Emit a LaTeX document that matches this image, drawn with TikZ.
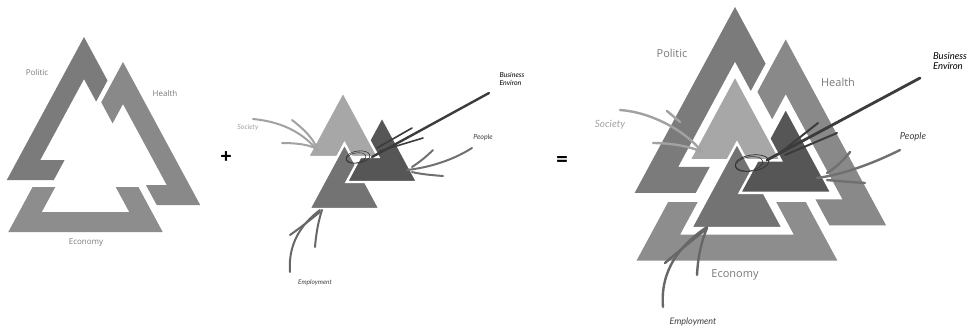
\documentclass[tikz,border=0pt]{standalone}
\usepackage{fontspec}
\usetikzlibrary{calc}
\setmainfont{Open Sans}
\newfontfamily\handfont{Lato}
\definecolor{cP}{HTML}{7B7B7B}
\definecolor{cH}{HTML}{898989}
\definecolor{cE}{HTML}{8D8D8D}
\definecolor{cL}{HTML}{A7A7A7}
\definecolor{cM}{HTML}{737373}
\definecolor{cD}{HTML}{565656}
\definecolor{labgray}{HTML}{7A7A7A}
\definecolor{socgray}{HTML}{A2A2A2}
\definecolor{peoplegray}{HTML}{707070}
\definecolor{empgray}{HTML}{676767}
\definecolor{busgray}{HTML}{3C3C3C}
\tikzset{
  pen/.style={line width=2pt, line cap=round},
  tri/.style={draw=white, line width=2.4pt, line join=miter},
  lab/.style={text=labgray, inner sep=0pt},
  hand/.style={inner sep=0pt, font=\handfont\itshape, align=left}
}
\newcommand\vklogo{%
  \begin{scope}
    \clip (-100,-50)--(178,-50)--(-11,300)--(-100,300)--cycle;
    \fill[cP,even odd rule] (84,37)--(6.8,180)--(161.2,180)--cycle (84,79.1)--(40.3,160)--(127.7,160)--cycle;
  \end{scope}
  \begin{scope}
    \clip (19,-50)--(400,-50)--(400,300)--(208,300)--cycle;
    \fill[cH,even odd rule] (123,62)--(45.8,205)--(200.2,205)--cycle (123,104.1)--(79.3,185)--(166.7,185)--cycle;
  \end{scope}
  \begin{scope}
    \clip (-100,187) rectangle (400,300);
    \fill[cE,even odd rule] (85.5,89)--(8.3,232)--(162.7,232)--cycle (85.5,131.1)--(41.8,212)--(129.2,212)--cycle;
  \end{scope}}
\newcommand\vkinner{%
  \filldraw[tri,fill=cD] (123,114.6)--(87.7,180)--(158.3,180)--cycle;
  \filldraw[tri,fill=cL] (84,89.6)--(48.7,155)--(119.3,155)--cycle;
  \filldraw[tri,fill=cM] (85.5,141.6)--(50.2,207)--(120.8,207)--cycle;
  \begin{scope}
    \clip (-100,158.5) rectangle (400,300);
    \filldraw[tri,fill=cD] (123,114.6)--(87.7,180)--(158.3,180)--cycle;
  \end{scope}}
\begin{document}
\begin{tikzpicture}[x=1pt,y=-1pt]
\useasboundingbox (0,0) rectangle (973,330);
\fill[white] (0,0) rectangle (973,330);

% ---------- left logo ----------
\vklogo
\node[lab,font=\fontsize{8}{9}\selectfont] (polA) at (37,72) {Politic};
\node[lab,font=\fontsize{8}{9}\selectfont] (heaA) at (165,93) {Health};
\node[lab,font=\fontsize{8}{9}\selectfont] (ecoA) at (86,243) {Economy};

\node[font=\bfseries\fontsize{20}{20}\selectfont, inner sep=0pt] (plus) at (226,158) {+};
\node[font=\bfseries\fontsize{20}{20}\selectfont, inner sep=0pt] (eq) at (562,161) {=};

% ---------- middle figure ----------
\begin{scope}[shift={(259,2)}]
  \vkinner
\end{scope}
\node[hand,text=socgray,font=\handfont\itshape\fontsize{7}{8}\selectfont] (socB) at (248,128) {Society};
\node[hand,font=\handfont\itshape\fontsize{7}{7.5}\selectfont] (busB) at (512,79) {Business\\Environ};
\node[hand,text=black!75,font=\handfont\itshape\fontsize{7}{8}\selectfont] (peoB) at (483,138) {People};
\node[hand,text=black!75,font=\handfont\itshape\fontsize{6.5}{8}\selectfont] (empB) at (315,283) {Employment};

\coordinate (sB1a) at (253,119); \coordinate (sB1b) at (318,151);
\coordinate (sB2a) at (292,120); \coordinate (sB2b) at (316,146);
\coordinate (sB3a) at (282,143); \coordinate (sB3b) at (317,149);
\draw[pen,socgray] (sB1a) .. controls (285,122) and (305,135) .. (sB1b);
\draw[pen,socgray] (sB2a) .. controls (305,130) and (312,138) .. (sB2b);
\draw[pen,socgray] (sB3a) .. controls (298,143) and (310,145) .. (sB3b);

\coordinate (bB1a) at (489,93); \coordinate (bB1b) at (372,157);
\coordinate (bB2a) at (412,128); \coordinate (bB2b) at (377,148);
\coordinate (bB3a) at (423,138); \coordinate (bB3b) at (380,151);
\draw[pen,busgray,line width=2.4pt] (bB1a) -- (bB1b);
\draw[pen,busgray,line width=1.6pt] (bB2a) -- (bB2b);
\draw[pen,busgray,line width=1.6pt] (bB3a) -- (bB3b);
\coordinate (ellB) at (358,157);
\coordinate (ellB2) at (356,158);
\draw[black!80,line width=0.6pt,rotate around={8:(ellB)}] (ellB) ellipse [x radius=12pt, y radius=6pt];
\draw[black!80,line width=0.5pt,rotate around={12:(ellB2)}] (ellB2) ellipse [x radius=10pt, y radius=5pt];

\coordinate (pB1a) at (472,148); \coordinate (pB1b) at (407,170);
\coordinate (pB2a) at (433,150); \coordinate (pB2b) at (412,167);
\coordinate (pB3a) at (443,176); \coordinate (pB3b) at (412,172);
\draw[pen,peoplegray] (pB1a) .. controls (450,162) and (425,168) .. (pB1b);
\draw[pen,peoplegray] (pB2a) .. controls (425,158) and (418,163) .. (pB2b);
\draw[pen,peoplegray] (pB3a) .. controls (430,175) and (420,174) .. (pB3b);

\coordinate (eB1a) at (290,272); \coordinate (eB1b) at (320,210);
\coordinate (eB2a) at (290,235); \coordinate (eB2b) at (320,212);
\coordinate (eB3a) at (315,247); \coordinate (eB3b) at (322,210);
\draw[pen,empgray] (eB1a) .. controls (288,245) and (300,225) .. (eB1b);
\draw[pen,empgray] (eB2a) .. controls (300,228) and (310,220) .. (eB2b);
\draw[pen,empgray] (eB3a) .. controls (316,235) and (318,222) .. (eB3b);

% ---------- right figure ----------
\begin{scope}[shift={(625.8,-41.1)},scale=1.3]
  \vkinner
  \vklogo
\end{scope}
\node[lab,font=\fontsize{11}{12}\selectfont] (polC) at (672,53) {Politic};
\node[lab,font=\fontsize{11}{12}\selectfont] (heaC) at (838,82) {Health};
\node[lab,font=\fontsize{11}{12}\selectfont] (ecoC) at (735,275) {Economy};
\node[hand,text=socgray,font=\handfont\itshape\fontsize{10}{11}\selectfont] (socC) at (610,125) {Society};
\node[hand,font=\handfont\itshape\fontsize{9.5}{10.5}\selectfont] (busC) at (950,61) {Business\\Environ};
\node[hand,text=black!75,font=\handfont\itshape\fontsize{9.5}{11}\selectfont] (peoC) at (913,137) {People};
\node[hand,text=black!75,font=\handfont\itshape\fontsize{9}{11}\selectfont] (empC) at (693,322) {Employment};

\coordinate (sC1a) at (620,110); \coordinate (sC1b) at (702,152);
\coordinate (sC2a) at (667,111); \coordinate (sC2b) at (680,122);
\coordinate (sC3a) at (653,143); \coordinate (sC3b) at (700,151);
\draw[pen,socgray,line width=2.4pt] (sC1a) .. controls (650,112) and (685,130) .. (sC1b);
\draw[pen,socgray,line width=2.4pt] (sC2a) -- (sC2b);
\draw[pen,socgray,line width=2.4pt] (sC3a) .. controls (670,143) and (688,146) .. (sC3b);

\coordinate (bC1a) at (920,78); \coordinate (bC1b) at (767,160);
\coordinate (bC2a) at (818,123); \coordinate (bC2b) at (780,153);
\coordinate (bC3a) at (837,133); \coordinate (bC3b) at (785,155);
\draw[pen,busgray,line width=2.8pt] (bC1a) -- (bC1b);
\draw[pen,busgray,line width=2pt] (bC2a) -- (bC2b);
\draw[pen,busgray,line width=2pt] (bC3a) -- (bC3b);
\coordinate (ellC) at (752,163);
\coordinate (ellC2) at (749,164);
\draw[black!80,line width=0.7pt,rotate around={8:(ellC)}] (ellC) ellipse [x radius=17pt, y radius=8pt];
\draw[black!80,line width=0.6pt,rotate around={12:(ellC2)}] (ellC2) ellipse [x radius=14pt, y radius=7pt];

\coordinate (pC1a) at (900,150); \coordinate (pC1b) at (817,178);
\coordinate (pC2a) at (850,152); \coordinate (pC2b) at (827,173);
\coordinate (pC3a) at (865,183); \coordinate (pC3b) at (827,180);
\draw[pen,peoplegray,line width=2.4pt] (pC1a) .. controls (870,165) and (840,175) .. (pC1b);
\draw[pen,peoplegray,line width=2.4pt] (pC2a) .. controls (842,162) and (835,168) .. (pC2b);
\draw[pen,peoplegray,line width=2.4pt] (pC3a) .. controls (850,182) and (838,181) .. (pC3b);

\coordinate (eC1a) at (663,307); \coordinate (eC1b) at (707,227);
\coordinate (eC2a) at (697,275); \coordinate (eC2b) at (707,228);
\coordinate (eC3a) at (665,263); \coordinate (eC3b) at (705,230);
\draw[pen,empgray,line width=2.4pt] (eC1a) .. controls (660,270) and (680,245) .. (eC1b);
\draw[pen,empgray,line width=2.4pt] (eC2a) .. controls (698,255) and (702,240) .. (eC2b);
\draw[pen,empgray,line width=2.4pt] (eC3a) .. controls (680,250) and (695,238) .. (eC3b);
\end{tikzpicture}
\end{document}
